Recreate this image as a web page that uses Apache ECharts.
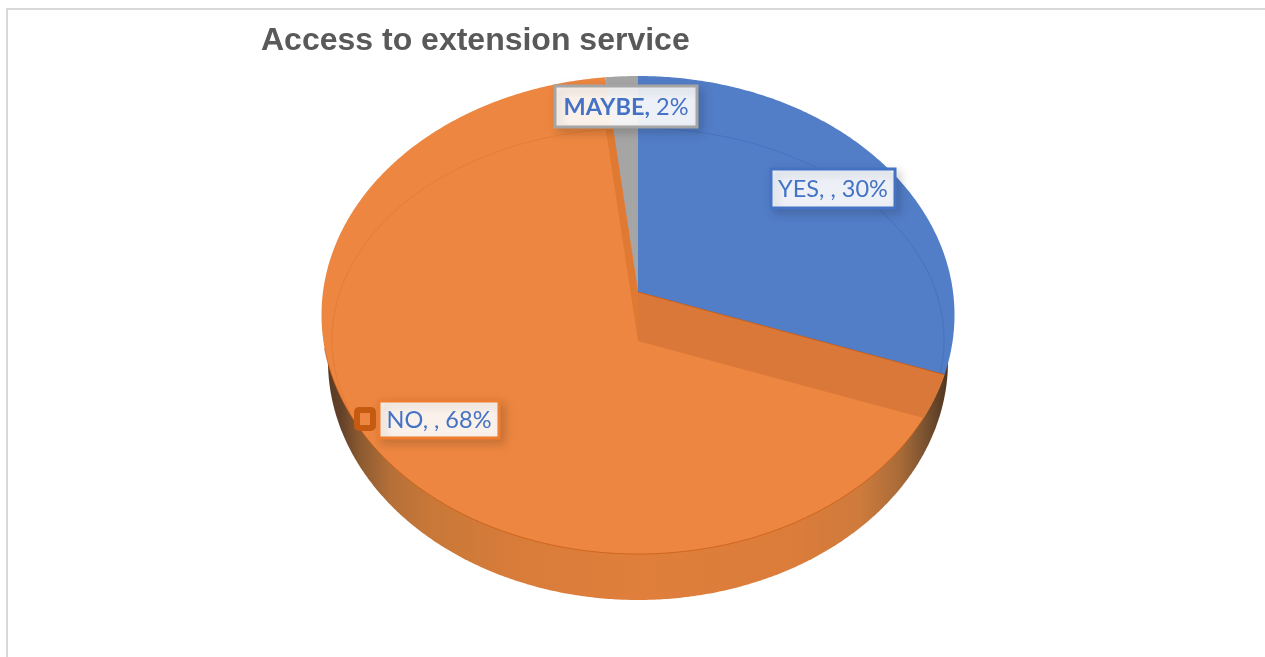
<!DOCTYPE html>
<html>
<head>
<meta charset="utf-8">
<style>html,body{margin:0;padding:0;background:#fff}#main{width:1265px;height:657px}</style>
<script src="https://cdn.jsdelivr.net/npm/echarts@6/dist/echarts.min.js"></script>
</head>
<body>
<div id="main"></div>
<script>
// Chart content
const chartTitle = 'Access to extension service';
const categories = ['YES', 'NO', 'MAYBE'];
const shares = [30, 68, 2];
const seriesLabelGap = [', , ', ', , ', ', '];

// Disc geometry of the tilted pie, in pixels
const top3d = { cx: 638, cy: 315, rx: 316.5, ry: 239 };
const rim3d = { cx: 638, cy: 340, rx: 306, ry: 212 };
const foot3d = { cx: 638, cy: 361, rx: 310, ry: 239 };
const hub = { x: 638, y: 292 };
const hubLow = { x: 638, y: 341 };
const tilt = 0.83;

// Slice colours and label boxes
const fills = ['#527DC7', '#EC8640', '#A5A5A5'];
const rimLines = ['rgba(60,100,180,0.45)', 'rgba(205,100,30,0.28)', 'rgba(140,140,140,0.4)'];
const boxes = [
  { x: 771, y: 169, w: 124, h: 39, stroke: '#4472C4' },
  { x: 379, y: 401, w: 120, h: 37, stroke: '#ED7D31' },
  { x: 555, y: 86, w: 142, h: 41, stroke: '#A5A5A5' }
];

const deg = Math.PI / 180;
const total = shares.reduce((a, b) => a + b, 0);

function ellipsePoint(e, t) {
  return [e.cx + e.rx * Math.sin(t), e.cy - e.ry * Math.cos(t)];
}
// Where a slice boundary, leaving origin at plan angle t, meets an ellipse
function rayHit(o, t, e) {
  const dx = Math.sin(t), dy = -tilt * Math.cos(t);
  const ox = (o.x - e.cx) / e.rx, oy = (o.y - e.cy) / e.ry;
  const ax = dx / e.rx, ay = dy / e.ry;
  const A = ax * ax + ay * ay, B = 2 * (ox * ax + oy * ay), C = ox * ox + oy * oy - 1;
  const s = (-B + Math.sqrt(B * B - 4 * A * C)) / (2 * A);
  return Math.atan2(ox + ax * s, -(oy + ay * s));
}
function arc(e, a, b) {
  while (b < a) b += Math.PI * 2;
  const pts = [];
  const n = Math.max(2, Math.ceil((b - a) / (0.5 * deg)));
  for (let i = 0; i <= n; i++) pts.push(ellipsePoint(e, a + (b - a) * i / n));
  return pts;
}
function poly(points, fill, z2) {
  return { type: 'polygon', shape: { points }, style: { fill, stroke: null }, z2, silent: true };
}
function line(points, stroke, width, z2) {
  return { type: 'polyline', shape: { points }, style: { stroke, lineWidth: width, fill: null }, z2, silent: true };
}

function renderSlice(params, api) {
  const i = params.dataIndex;
  let before = 0;
  for (let k = 0; k < i; k++) before += shares[k];
  const a0 = before / total * 360 * deg;
  const a1 = (before + api.value(0)) / total * 360 * deg;
  const sOuter = rayHit(hub, a0, top3d), eOuter = rayHit(hub, a1, top3d);
  const children = [
    poly([[hub.x, hub.y]].concat(arc(top3d, sOuter, eOuter)), fills[i], 2)
  ];
  if (i === 1) {
    // The large slice owns the visible side wall and the two cut faces
    const sLow = rayHit(hubLow, a0, top3d);
    children.push({
      type: 'polygon',
      shape: { points: arc(foot3d, 0, Math.PI * 2) },
      style: {
        fill: new echarts.graphic.LinearGradient(0, 0, 1, 0, [
          { offset: 0, color: '#5A3C22' }, { offset: 0.02, color: '#63402A' },
          { offset: 0.05, color: '#8A5A30' }, { offset: 0.1, color: '#B56F38' },
          { offset: 0.165, color: '#C87838' }, { offset: 0.3, color: '#D87C3A' },
          { offset: 0.5, color: '#E07F3C' }, { offset: 0.75, color: '#DC7C3A' },
          { offset: 0.858, color: '#CE7B3C' }, { offset: 0.923, color: '#A96B38' },
          { offset: 0.963, color: '#7A5230' }, { offset: 1, color: '#4E3520' }
        ])
      },
      z2: 0, silent: true
    });
    children.push(poly([[hub.x, hub.y]].concat(
      arc(top3d, sOuter, sLow),
      [[hubLow.x, hubLow.y]]), '#DA783A', 4));
    children.push(poly([
      [hub.x, hub.y], ellipsePoint(rim3d, rayHit(hub, a1, rim3d)),
      ellipsePoint(rim3d, rayHit(hubLow, a1, rim3d)), [hubLow.x, hubLow.y]
    ], '#E07A33', 4));
    children.push(line(arc(top3d, sLow, 262 * deg), 'rgba(197,90,17,0.7)', 1, 3));
    children.push(line([[hub.x, hub.y], ellipsePoint(top3d, sOuter)], 'rgba(197,90,17,0.8)', 1, 5));
    // Faint bevel line across the upper left of the disc only
    children.push(line(arc(rim3d, 250 * deg, rayHit(hubLow, a1, rim3d)), rimLines[i], 1, 3));
  } else {
    children.push(line(arc(rim3d, rayHit(hub, a0, rim3d), rayHit(hub, a1, rim3d)), rimLines[i], 1, 3));
  }
  return { type: 'group', children };
}

function renderLabel(params, api) {
  const i = params.dataIndex;
  const b = boxes[i];
  const name = categories[i];
  const isBold = i === 2;
  const head = name + seriesLabelGap[i].replace(/ $/, '');
  const text = (isBold ? '{b|' + head + '}' : head) + ' ' + api.value(0) + '%';
  const children = [{
    type: 'rect',
    shape: { x: b.x, y: b.y, width: b.w, height: b.h },
    style: {
      fill: 'rgba(255,255,255,0.9)', stroke: b.stroke, lineWidth: 3,
      shadowBlur: 9, shadowColor: 'rgba(0,0,0,0.16)', shadowOffsetX: 4, shadowOffsetY: 4
    },
    z2: 10, silent: true
  }, {
    type: 'text',
    style: {
      text, x: b.x + b.w / 2, y: b.y + b.h / 2 + 1,
      align: 'center', verticalAlign: 'middle',
      fill: '#4472C4', fontFamily: 'Lato', fontSize: 23.5,
      rich: { b: { fontFamily: 'Lato', fontSize: 23.5, fontWeight: 'bold', fill: '#4472C4' } }
    },
    z2: 11, silent: true
  }];
  if (i === 1) {
    // Selection handle at the left of the NO label
    children.push({
      type: 'rect',
      shape: { x: 357, y: 410, width: 16, height: 18, r: 2 },
      style: { fill: '#EC8640', stroke: '#C55A11', lineWidth: 6 },
      z2: 12, silent: true
    });
  }
  return { type: 'group', children };
}

const rows = shares.map(v => [v]);
const chart = echarts.init(document.getElementById('main'), null, { renderer: 'canvas' });
chart.setOption({
  animation: false,
  backgroundColor: '#fff',
  title: {
    text: chartTitle, left: 256, top: 20,
    textStyle: { fontFamily: 'Liberation Sans', fontSize: 32, fontWeight: 'bold', color: '#595959' }
  },
  graphic: [{
    type: 'rect', silent: true, z: 0,
    shape: { x: 7, y: 9, width: 1400, height: 800 },
    style: { fill: 'none', stroke: '#D9D9D9', lineWidth: 2 }
  }],
  series: [
    { type: 'custom', coordinateSystem: 'none', renderItem: renderSlice, data: rows, z: 2, silent: true },
    { type: 'custom', coordinateSystem: 'none', renderItem: renderLabel, data: rows, z: 3, silent: true }
  ]
});
</script>
</body>
</html>
